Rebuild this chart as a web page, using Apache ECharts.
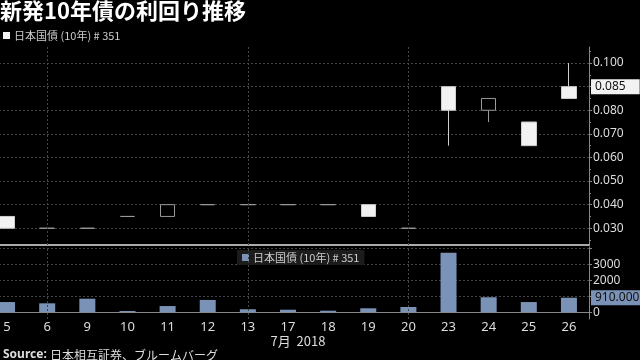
<!DOCTYPE html>
<html><head><meta charset="utf-8">
<script src="https://cdn.jsdelivr.net/npm/echarts@6/dist/echarts.min.js"></script>
<style>html,body{margin:0;background:#000}#c{width:640px;height:360px}</style>
</head><body><div id="c"></div>
<script>
const titleText = '新発10年債の利回り推移';
const seriesName = '日本国債 (10年) # 351';
const monthLabel = '7月  2018';
const days = ['5','6','9','10','11','12','13','17','18','19','20','23','24','25','26'];
const opens  = [0.035,0.030,0.030,0.035,0.035,0.040,0.040,0.040,0.040,0.040,0.030,0.090,0.080,0.075,0.090];
const closes = [0.030,0.030,0.030,0.035,0.040,0.040,0.040,0.040,0.040,0.035,0.030,0.080,0.085,0.065,0.085];
const lows   = [0.030,0.030,0.030,0.035,0.035,0.040,0.040,0.040,0.040,0.035,0.030,0.065,0.075,0.065,0.085];
const highs  = [0.035,0.030,0.030,0.035,0.040,0.040,0.040,0.040,0.040,0.040,0.030,0.090,0.085,0.075,0.100];
const volumes = [640,560,850,80,390,770,190,160,100,250,330,3720,940,640,910];
const yieldTicks = [0.03,0.04,0.05,0.06,0.07,0.08,0.09,0.10];
const yieldMinorTicks = [0.025,0.035,0.045,0.055,0.065,0.075,0.085,0.095,0.105];
const volumeTicks = [0,1000,2000,3000,4000];
const volumeLabels = [0,2000,3000];
const weekLines = ['6','13','20'];

const candleData = days.map((d,i)=>[opens[i],closes[i],lows[i],highs[i]]);
const lastYield = closes[closes.length-1];
const lastVolume = volumes[volumes.length-1];
const grid = '#454545';
const dash = [2,2];
const font = '"Noto Sans","Noto Sans CJK JP",sans-serif';
const cjk = '"Noto Sans CJK JP",sans-serif';
const vLines = weekLines.map(w=>({xAxis:w, lineStyle:{color:grid,type:dash,width:1}, label:{show:false}}));

const chart = echarts.init(document.getElementById('c'), null, {renderer:'canvas'});
chart.setOption({
  animation:false,
  backgroundColor:'#000',
  textStyle:{fontFamily:font},
  title:{text:titleText,left:0,top:0,padding:0,
    textStyle:{color:'#fff',fontSize:22,fontWeight:'bold',fontFamily:cjk}},
  legend:[
    {left:3,top:30,padding:0,itemWidth:7,itemHeight:7,itemGap:4,
     textStyle:{color:'#ccc',fontSize:11,fontFamily:cjk,padding:[0,0,0,-1]},
     selectedMode:false,
     data:[{name:seriesName,icon:'rect',itemStyle:{color:'#f4f4f4',borderWidth:0}}]},
    {left:237,top:250,padding:[2,5,2,5],backgroundColor:'#1c1c1c',itemWidth:7,itemHeight:7,
     textStyle:{color:'#ccc',fontSize:11,fontFamily:cjk,padding:[0,0,0,-1]},
     selectedMode:false,
     data:[{name:seriesName,icon:'rect',itemStyle:{color:'#7a92b6',borderWidth:0}}]}
  ],
  grid:[
    {left:-13,right:51,top:47,height:198,outerBoundsMode:'none',containLabel:false},
    {left:-13,right:51,top:247,height:72,outerBoundsMode:'none',containLabel:false}
  ],
  xAxis:[
    {type:'category',gridIndex:0,data:days,boundaryGap:true,
     axisLine:{show:true,lineStyle:{color:'#aaa',width:2}},
     axisTick:{show:false},axisLabel:{show:false},splitLine:{show:false}},
    {type:'category',gridIndex:1,data:days,boundaryGap:true,
     axisLine:{show:true,lineStyle:{color:'#888',width:1}},
     axisTick:{show:false},
     axisLabel:{color:'#ddd',fontSize:13,margin:2,fontFamily:font},
     name:monthLabel,nameLocation:'middle',nameGap:15,
     nameTextStyle:{color:'#ddd',fontSize:13,fontFamily:cjk,padding:[0,0,0,20]},
     splitLine:{show:false}}
  ],
  yAxis:[
    {type:'value',gridIndex:0,position:'right',min:0.0229,max:0.1068,
     axisLine:{show:true,lineStyle:{color:'#888'}},
     axisTick:{show:true,length:3,customValues:yieldTicks,lineStyle:{color:'#888'}},
     axisLabel:{show:true,customValues:yieldTicks,color:'#ddd',fontSize:12,margin:4,
       formatter:v=>v.toFixed(3)},
     splitLine:{show:true,lineStyle:{color:grid,type:dash}}},
    {type:'value',gridIndex:0,position:'right',min:0.0229,max:0.1068,
     axisLine:{show:false},
     axisTick:{show:true,length:2,customValues:yieldMinorTicks,lineStyle:{color:'#888'}},
     axisLabel:{show:false},splitLine:{show:false}},
    {type:'value',gridIndex:1,position:'right',min:-420,max:4080,
     axisLine:{show:true,lineStyle:{color:'#888'}},
     axisTick:{show:true,length:3,customValues:volumeTicks,lineStyle:{color:'#888'}},
     axisLabel:{show:true,customValues:volumeLabels,color:'#ddd',fontSize:12,margin:4,
       formatter:v=>String(v)},
     splitLine:{show:true,lineStyle:{color:grid,type:dash}}}
  ],
  series:[
    {name:seriesName,type:'candlestick',xAxisIndex:0,yAxisIndex:0,data:candleData,barWidth:15,
     itemStyle:{color:'#000',borderColor:'#9a9a9a',color0:'#f2f2f2',borderColor0:'#cfcfcf',
       borderColorDoji:'#9a9a9a',borderWidth:1},
     markLine:{silent:true,symbol:'none',
       data:vLines.concat([{yAxis:lastYield,lineStyle:{color:'rgba(0,0,0,0)',width:0},
         label:{show:true,position:'end',distance:2,formatter:lastYield.toFixed(3),
           backgroundColor:'#f2f2f2',color:'#111',fontSize:12,padding:[2,14,1,4],fontFamily:font}}])}},
    {name:seriesName,type:'bar',xAxisIndex:1,yAxisIndex:2,data:volumes,barWidth:16,
     itemStyle:{color:'#7a92b6'},
     markLine:{silent:true,symbol:'none',
       data:vLines.concat([{yAxis:lastVolume,lineStyle:{color:'rgba(0,0,0,0)',width:0},
         label:{show:true,position:'end',distance:2,formatter:lastVolume.toFixed(3),
           backgroundColor:'#7a92b6',color:'#111',fontSize:12,padding:[2,6,1,4],fontFamily:font}}])}}
  ],
  graphic:[
    {type:'text',left:3,top:349,style:{
      text:'{b|Source:} {n|日本相互証券、ブルームバーグ}',
      rich:{b:{fill:'#ddd',fontSize:12,fontWeight:'bold',fontFamily:font},
            n:{fill:'#ddd',fontSize:12,fontFamily:cjk}}}}
  ]
});
</script></body></html>
